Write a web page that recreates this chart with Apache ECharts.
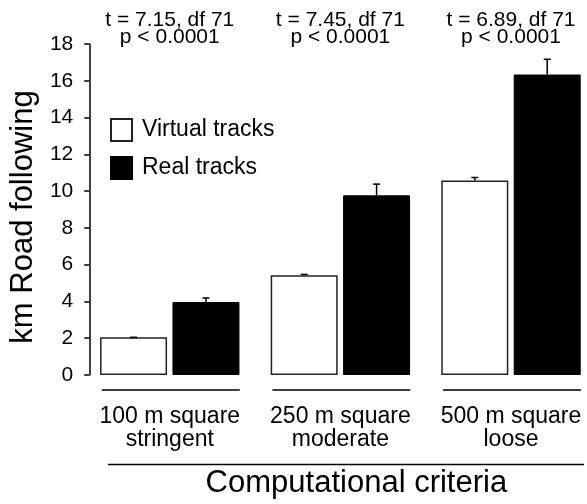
<!DOCTYPE html>
<html>
<head>
<meta charset="utf-8">
<script src="https://cdn.jsdelivr.net/npm/echarts@6/dist/echarts.min.js"></script>
<style>html,body{margin:0;padding:0;background:#fff;}#c{width:587px;height:504px;}</style>
</head>
<body>
<div id="c"></div>
<script>
const categories = ['100 m square\nstringent', '250 m square\nmoderate', '500 m square\nloose'];
const statLabels = ['t = 7.15, df 71\np < 0.0001', 't = 7.45, df 71\np < 0.0001', 't = 6.89, df 71\np < 0.0001'];
const seriesNames = ['Virtual tracks', 'Real tracks'];
const virtualMeans = [2.05, 5.42, 10.58];
const virtualSE = [0, 0.05, 0.16];
const realMeans = [3.97, 9.77, 16.34];
const realSE = [0.22, 0.61, 0.83];
const yMin = 0, yMax = 18, yStep = 2;
const xAxisTitle = 'Computational criteria';
const yAxisTitle = 'km Road following';

const FONT = 'Liberation Sans, Arial, Helvetica, sans-serif';
const BAR_W = 67, BAR_GAP_PX = 5.4;
const OFF = (BAR_W + BAR_GAP_PX) / 2;
const GRID_LEFT = 169.5, GRID_W = 341.5, Y_AXIS_X = 89;

function errSeries(means, se, sign) {
  return {
    type: 'custom',
    xAxisIndex: 0,
    z: 5,
    data: means.map((m, i) => [i, m, m + se[i]]),
    encode: { x: 0, y: [1, 2] },
    renderItem: function (params, api) {
      const i = api.value(0);
      const lo = api.coord([i, api.value(1)]);
      const hi = api.coord([i, api.value(2)]);
      const x = lo[0] + sign * OFF;
      return {
        type: 'group',
        children: [
          { type: 'line', shape: { x1: x, y1: lo[1], x2: x, y2: hi[1] }, style: { stroke: '#000', lineWidth: 1.5 } },
          { type: 'line', shape: { x1: x - 3.5, y1: hi[1], x2: x + 3.5, y2: hi[1] }, style: { stroke: '#000', lineWidth: 1.5 } }
        ]
      };
    }
  };
}

const chart = echarts.init(document.getElementById('c'), null, { renderer: 'canvas' });
chart.setOption({
  animation: false,
  backgroundColor: '#fff',
  textStyle: { fontFamily: FONT, color: '#000' },
  grid: { left: GRID_LEFT, width: GRID_W, top: 44, bottom: 129, containLabel: false },
  legend: {
    data: seriesNames,
    orient: 'vertical',
    left: 110, top: 118,
    padding: 0,
    itemWidth: 21, itemHeight: 22, itemGap: 14,
    icon: 'rect',
    textStyle: { fontFamily: FONT, fontSize: 23, color: '#000', padding: [0, 0, 0, 5] }
  },
  xAxis: [
    {
      type: 'category',
      data: categories,
      boundaryGap: false,
      position: 'bottom',
      axisLine: { show: false },
      axisTick: { show: false },
      axisLabel: { fontFamily: FONT, fontSize: 23, lineHeight: 23, color: '#000', margin: 30, interval: 0 },
      name: xAxisTitle,
      nameLocation: 'middle',
      nameGap: 93,
      nameTextStyle: { fontFamily: FONT, fontSize: 31, color: '#000', padding: [0, 0, 0, 32] }
    },
    {
      type: 'category',
      data: statLabels,
      boundaryGap: false,
      position: 'top',
      axisLine: { show: false },
      axisTick: { show: false },
      axisLabel: { fontFamily: FONT, fontSize: 21, lineHeight: 17.5, color: '#000', margin: -2, interval: 0 }
    }
  ],
  yAxis: {
    type: 'value',
    min: yMin, max: yMax, interval: yStep,
    offset: GRID_LEFT - Y_AXIS_X,
    splitLine: { show: false },
    axisLine: { show: true, lineStyle: { color: '#000', width: 1.5 } },
    axisTick: { show: true, length: 5, lineStyle: { color: '#000', width: 1.5 } },
    axisLabel: { fontFamily: FONT, fontSize: 21, color: '#000', margin: 16 },
    name: yAxisTitle,
    nameLocation: 'middle',
    nameGap: 50,
    nameRotate: 90,
    nameTextStyle: { fontFamily: FONT, fontSize: 31, color: '#000', padding: [0, 15, 0, 0] }
  },
  series: [
    {
      name: seriesNames[0],
      type: 'bar',
      data: virtualMeans,
      barWidth: BAR_W,
      barGap: (BAR_GAP_PX / BAR_W * 100) + '%',
      itemStyle: { color: '#fff', borderColor: '#222', borderWidth: 1.5 }
    },
    {
      name: seriesNames[1],
      type: 'bar',
      data: realMeans,
      barWidth: BAR_W,
      itemStyle: { color: '#000', borderColor: '#000', borderWidth: 1 }
    },
    errSeries(virtualMeans, virtualSE, -1),
    errSeries(realMeans, realSE, 1),
    {
      type: 'custom',
      xAxisIndex: 0,
      silent: true,
      data: categories.map((c, i) => [i, 0]),
      encode: { x: 0, y: 1 },
      renderItem: function (params, api) {
        const p = api.coord([api.value(0), 0]);
        return { type: 'line', shape: { x1: p[0] - 68, y1: p[1] + 15, x2: p[0] + 70, y2: p[1] + 15 }, style: { stroke: '#000', lineWidth: 1.5 } };
      }
    }
  ],
  graphic: [
    { type: 'line', shape: { x1: 108, y1: 464.5, x2: 584, y2: 464.5 }, style: { stroke: '#000', lineWidth: 1.5 } }
  ]
});
</script>
</body>
</html>
